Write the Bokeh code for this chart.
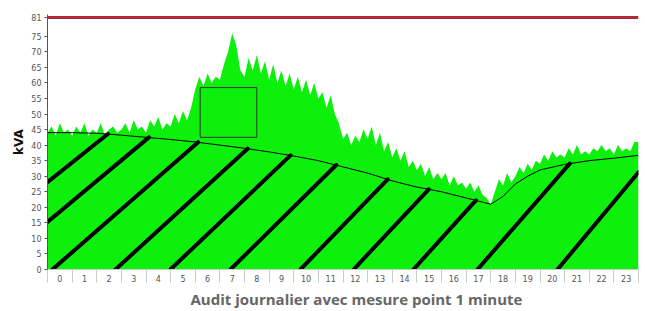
import numpy as np
from bokeh.plotting import figure
from bokeh.models import FixedTicker, Range1d, Title
from bokeh.embed import file_html
from bokeh.resources import INLINE

# hour categories (tick labels)
hours = [str(h) for h in range(24)]

# 10-minute readings of the load (kVA), six per hour
load_by_hour = [
    [44, 46, 43, 47, 44, 45],
    [43, 46, 44, 47, 43, 45],
    [44, 47, 43, 45, 46, 44],
    [45, 47, 44, 48, 45, 46],
    [44, 48, 46, 49, 45, 47],
    [46, 50, 47, 51, 48, 52],
    [58, 62, 59, 63, 60, 62],
    [61, 66, 70, 76, 72, 64],
    [62, 68, 64, 69, 63, 67],
    [61, 66, 60, 64, 59, 63],
    [58, 62, 57, 61, 56, 60],
    [55, 57, 52, 56, 50, 47],
    [42, 44, 40, 43, 41, 45],
    [42, 46, 40, 44, 38, 41],
    [36, 39, 35, 38, 33, 35],
    [32, 34, 30, 33, 29, 31],
    [29, 31, 27, 30, 27, 28],
    [26, 28, 25, 27, 24, 23],
    [21, 25, 29, 27, 31, 28],
    [30, 33, 31, 34, 32, 35],
    [34, 37, 35, 38, 36, 37],
    [36, 39, 37, 40, 37, 38],
    [37, 39, 38, 40, 38, 39],
    [37, 40, 38, 39, 38, 41],
]

# reference (base) curve
curve_h = [0, 1, 2, 3, 4, 5, 6, 7, 8, 9, 10, 11, 12, 13, 14, 15, 16, 17, 17.5, 18, 18.5, 19, 19.5, 20, 21, 22, 23, 24]
curve_v = [44, 44, 43.8, 43.2, 42.5, 41.8, 41, 40, 39, 37.8, 36.5, 35, 33, 31, 28.5, 26.5, 25, 23, 22, 21, 23.5, 27.5, 30, 32, 33.8, 35, 35.8, 36.7]

# subscribed power limit
limit_kva = 81

# highlighted window
box_h = [6.2, 8.5]
box_v = [42.5, 58.5]

y_ticks = [0, 5, 10, 15, 20, 25, 30, 35, 40, 45, 50, 55, 60, 65, 70, 75, 81]

load = [v for row in load_by_hour for v in row]
t = np.arange(len(load)) / 6.0
t = np.append(t, 24.0)
load = load + [load[-1]]

p = figure(width=645, height=311, output_backend="svg", toolbar_location=None,
           x_range=Range1d(0, 24), y_range=Range1d(0, 82),
           min_border_left=47, min_border_right=7, min_border_top=14, min_border_bottom=20)
p.outline_line_color = None
p.grid.grid_line_color = None
p.background_fill_color = "white"

p.varea(x=t, y1=0, y2=load, fill_color="#0cf00c")

# hatching below the base curve (style: where the strokes start and how steep they are)
hatch_start = [-4.43, -2.32, 0.2, 2.76, 4.99, 7.43, 10.27, 12.43, 14.86, 17.46, 20.71]
px_per_h = 591 / 24.0
px_per_kva = 255 / 82.0
x0s, y0s, x1s, y1s = [], [], [], []
for s in hatch_start:
    frac = (s - hatch_start[0]) / (hatch_start[-1] - hatch_start[0])
    k = (0.8 + 0.4 * frac) * px_per_h / px_per_kva  # kVA per hour
    xx = np.linspace(max(s, 0), 24, 2000)
    ly = k * (xx - s)
    cy = np.interp(xx, curve_h, curve_v)
    hit = np.nonzero(ly >= cy)[0]
    xe = xx[hit[0]] if len(hit) else 24.0
    x0s.append(xx[0]); y0s.append(k * (xx[0] - s))
    x1s.append(xe); y1s.append(k * (xe - s))
p.segment(x0=x0s, y0=y0s, x1=x1s, y1=y1s, line_color="black", line_width=4, line_cap="round")

p.line(curve_h, curve_v, line_color="black", line_width=1)
p.quad(left=[box_h[0]], right=[box_h[1]], bottom=[box_v[0]], top=[box_v[1]],
       fill_color=None, line_color="#333333", line_width=1)
p.line([0, 24], [limit_kva, limit_kva], line_color="#b0283a", line_width=3)

# y axis
p.yaxis.ticker = FixedTicker(ticks=y_ticks, minor_ticks=[])
p.yaxis.major_label_text_font = "DejaVu Sans"
p.yaxis.major_label_text_font_size = "8px"
p.yaxis.major_label_text_color = "#555555"
p.yaxis.axis_line_color = "#555555"
p.yaxis.major_tick_line_color = "#555555"
p.yaxis.major_tick_out = 3
p.yaxis.major_tick_in = 0
p.yaxis.major_label_standoff = 3
p.yaxis.axis_label = "kVA"
p.yaxis.axis_label_text_font = "DejaVu Sans"
p.yaxis.axis_label_text_font_size = "12px"
p.yaxis.axis_label_text_font_style = "bold"
p.yaxis.axis_label_text_color = "#111111"
p.yaxis.axis_label_standoff = 2

# x axis: labels centred in hour cells, separators at hour boundaries
p.xaxis.ticker = FixedTicker(ticks=[h + 0.5 for h in range(24)], minor_ticks=list(range(25)))
p.xaxis.major_label_overrides = {h + 0.5: hours[h] for h in range(24)}
p.xaxis.major_label_text_font = "DejaVu Sans"
p.xaxis.major_label_text_font_size = "8px"
p.xaxis.major_label_text_color = "#555555"
p.xaxis.major_tick_line_color = None
p.xaxis.minor_tick_line_color = "#cccccc"
p.xaxis.minor_tick_out = 13
p.xaxis.minor_tick_in = 0
p.xaxis.axis_line_color = "#cccccc"
p.xaxis.major_label_standoff = -8

p.add_layout(Title(text="Audit journalier avec mesure point 1 minute", align="left", offset=143,
                   text_font="Open Sans", text_font_size="15px", text_font_style="bold",
                   text_color="#666666", standoff=5), "below")

open("out.html", "w").write(file_html(p, INLINE))
